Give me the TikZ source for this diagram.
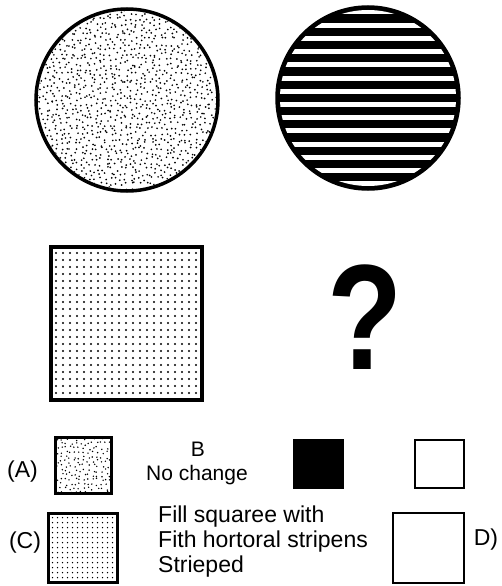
\documentclass[tikz,border=0pt]{standalone}
\usepackage{fontspec}
\usepackage{graphicx}
\setmainfont{Liberation Sans}
\begin{document}
\begin{tikzpicture}[
    x=1pt, y=-1pt,
    figure/.style={draw=black, line width=3.5pt},
    optbox/.style={draw=black, line width=2pt},
    dot/.style={fill=black},
    lbl/.style={font=\fontsize{21}{25}\selectfont, inner sep=0pt},
    bigtext/.style={font=\fontsize{23}{25}\selectfont, inner sep=0pt},
    qmark/.style={font=\fontsize{150}{150}\selectfont\bfseries, inner sep=0pt}
]
\useasboundingbox (0,0) rectangle (501,586);
\pgfmathsetseed{17}

% Stippled circle (top left)
\begin{scope}
  \clip (127,100) circle[radius=89pt];
  \foreach \i in {0,...,36}
    \foreach \j in {0,...,36} {
      \pgfmathsetmacro\dx{2.2*rand}
      \pgfmathsetmacro\dy{2.2*rand}
      \fill[dot] (36+\i*5+\dx, 9+\j*5+\dy) circle[radius=0.95pt];
    }
\end{scope}
\draw[figure] (127,100) circle[radius=91pt];

% Striped circle (top right)
\fill[black] (368,98) circle[radius=91pt];
\begin{scope}
  \clip (368,98) circle[radius=88pt];
  \foreach \k in {0,...,13}
    \draw[white, line width=5pt] (270,12+\k*13.2) -- (470,12+\k*13.2);
\end{scope}
\draw[figure] (368,98) circle[radius=91pt];

% Dotted square (middle left)
\foreach \i in {0,...,20}
  \foreach \j in {0,...,20}
    \fill[dot] (56+\i*7, 253+\j*7) circle[radius=1.1pt];
\draw[figure, line width=4pt] (51,247) rectangle (202,400);

% Question mark
\node[qmark] (question) at (365,317) {\scalebox{0.82}[1]{?}};

% Option A: stippled square
\begin{scope}
  \clip (55,437) rectangle (111,493);
  \foreach \i in {0,...,12}
    \foreach \j in {0,...,12} {
      \pgfmathsetmacro\dx{1.8*rand}
      \pgfmathsetmacro\dy{1.8*rand}
      \fill[dot] (57+\i*4.5+\dx, 439+\j*4.5+\dy) circle[radius=0.8pt];
    }
\end{scope}
\draw[figure, line width=3pt] (55,437) rectangle (111,493);
\node[bigtext] (labelA) at (22.5,472) {(A)};

% Option B
\node[lbl, anchor=base] (labelB) at (198,456) {B};
\node[lbl, anchor=base] (nochange) at (197,480) {No change};
\fill[black] (293,439) rectangle (344,489);
\draw[optbox] (415,440) rectangle (464,488);

% Option C: dotted square
\foreach \i in {0,...,12}
  \foreach \j in {0,...,12}
    \fill[dot] (52.5+\i*5, 517.5+\j*5) circle[radius=0.75pt];
\draw[figure, line width=3pt] (48,513) rectangle (117,582);
\node[bigtext] (labelC) at (25,543) {(C)};
\node[bigtext, anchor=base west, align=left] (stripetext) at (158,572)
  {Fill squaree with\\Fith hortoral stripens\\Strieped};

% Option D: empty square
\draw[optbox] (393,513) rectangle (464,583);
\node[bigtext] (labelD) at (486,540) {D)};
\end{tikzpicture}
\end{document}
